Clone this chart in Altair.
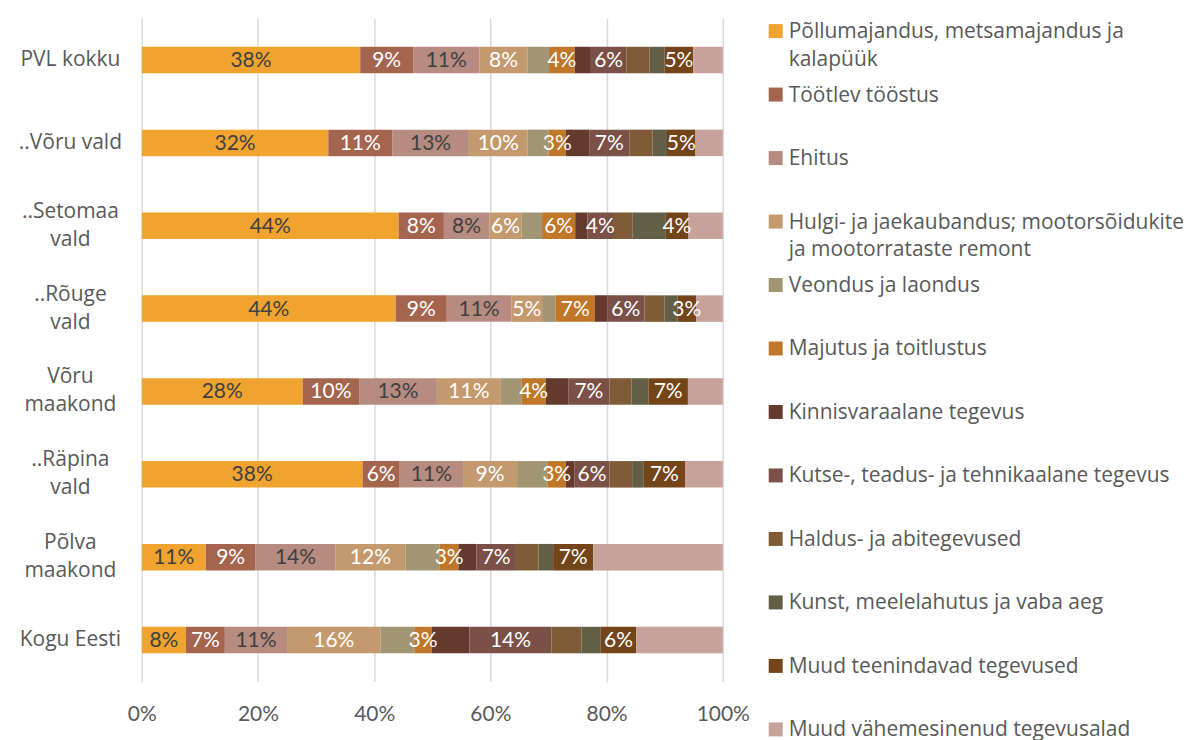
import altair as alt
import pandas as pd

ROWS = ["PVL kokku", "..Võru vald", "..Setomaa|vald", "..Rõuge|vald",
        "Võru|maakond", "..Räpina|vald", "Põlva|maakond", "Kogu Eesti"]

CATEGORIES = [
    "Põllumajandus, metsamajandus ja kalapüük",
    "Töötlev tööstus",
    "Ehitus",
    "Hulgi- ja jaekaubandus; mootorsõidukite ja mootorrataste remont",
    "Veondus ja laondus",
    "Majutus ja toitlustus",
    "Kinnisvaraalane tegevus",
    "Kutse-, teadus- ja tehnikaalane tegevus",
    "Haldus- ja abitegevused",
    "Kunst, meelelahutus ja vaba aeg",
    "Muud teenindavad tegevused",
    "Muud vähemesinenud tegevusalad",
]

LEGEND_TEXT = [
    "Põllumajandus, metsamajandus ja\nkalapüük",
    "Töötlev tööstus",
    "Ehitus",
    "Hulgi- ja jaekaubandus; mootorsõidukite\nja mootorrataste remont",
    "Veondus ja laondus",
    "Majutus ja toitlustus",
    "Kinnisvaraalane tegevus",
    "Kutse-, teadus- ja tehnikaalane tegevus",
    "Haldus- ja abitegevused",
    "Kunst, meelelahutus ja vaba aeg",
    "Muud teenindavad tegevused",
    "Muud vähemesinenud tegevusalad",
]

COLORS = ["#F0A32F", "#A5644E", "#B68B80", "#C4996E", "#A19574", "#C0772A",
          "#643A2F", "#7A5047", "#805B37", "#635E46", "#744519", "#C6A29A"]

# values (percent) per category, in ROWS order
POLLU = [37.6, 32.1, 44.2, 43.7, 27.7, 38.0, 11.0, 7.6]
TOOTLEV = [9.1, 11.0, 7.8, 8.8, 9.7, 6.4, 8.6, 6.7]
EHITUS = [11.4, 13.2, 7.8, 11.1, 13.4, 10.9, 13.7, 10.7]
HULGI = [8.3, 10.1, 5.6, 5.3, 11.0, 9.3, 12.1, 16.1]
VEONDUS = [3.7, 3.6, 3.5, 2.3, 3.6, 5.2, 5.9, 5.8]
MAJUTUS = [4.4, 3.0, 5.7, 6.8, 4.1, 3.2, 3.2, 3.0]
KINNIS = [2.8, 4.0, 2.1, 2.1, 3.9, 1.5, 3.1, 6.5]
KUTSE = [6.1, 6.9, 4.4, 6.4, 7.1, 6.0, 6.8, 14.1]
HALDUS = [4.0, 4.0, 3.4, 3.5, 3.8, 3.9, 3.9, 5.2]
KUNST = [2.6, 2.5, 5.6, 2.2, 2.9, 2.0, 2.5, 3.3]
MUUD_TEEN = [4.9, 4.9, 4.0, 3.2, 6.8, 7.1, 6.9, 6.1]
MUUD_VAH = [5.1, 4.7, 5.9, 4.6, 6.0, 6.5, 22.3, 14.9]

SERIES = [POLLU, TOOTLEV, EHITUS, HULGI, VEONDUS, MAJUTUS, KINNIS, KUTSE,
          HALDUS, KUNST, MUUD_TEEN, MUUD_VAH]
LABELED = [True, True, True, True, False, True, False, True, False, False, True, False]
DARK_LABEL = [True, False, True, False, False, False, False, False, False, False, False, False]

recs = []
for ci, (cat, vals) in enumerate(zip(CATEGORIES, SERIES)):
    for ri, row in enumerate(ROWS):
        recs.append({"row": row, "cat": cat, "order": ci, "value": vals[ri],
                     "labeled": LABELED[ci], "dark": DARK_LABEL[ci]})
df = pd.DataFrame(recs)

TEXT_COLOR = "#595959"
color_scale = alt.Scale(domain=CATEGORIES, range=COLORS)

y_enc = alt.Y("row:N", sort=ROWS,
              scale=alt.Scale(domain=ROWS, paddingInner=0.68, paddingOuter=0.34),
              axis=alt.Axis(title=None, labelExpr="split(datum.label, '|')",
                            ticks=False, domain=False, labelAlign="center",
                            labelPadding=72, labelFontSize=21, labelFont="Open Sans",
                            labelColor=TEXT_COLOR, labelLineHeight=28,
                            labelBaseline="middle",
                            labelOffset={"condition": {"test": "indexof(datum.value, '|') >= 0",
                                                       "value": -14},
                                         "value": 0}))

base = alt.Chart(df).transform_stack(
    stack="value", groupby=["row"], sort=[alt.SortField("order")], as_=["x0", "x1"]
)

bars = base.mark_bar().encode(
    x=alt.X("x0:Q", scale=alt.Scale(domain=[0, 100], nice=False),
            axis=alt.Axis(values=[0, 20, 40, 60, 80, 100], labelExpr="datum.value + '%'",
                          grid=True, gridColor="#D9D9D9", gridWidth=1.5, ticks=False,
                          domain=False, title=None, labelFontSize=21, labelFont="Lato",
                          labelColor=TEXT_COLOR, labelPadding=22, labelFlush=False)),
    x2="x1:Q",
    y=y_enc,
    color=alt.Color("cat:N", scale=color_scale, legend=None),
)

labels = base.transform_filter("datum.labeled").transform_calculate(
    mid="(datum.x0 + datum.x1) / 2", txt="round(datum.value) + '%'"
).mark_text(fontSize=21, font="Lato", baseline="middle", dy=1).encode(
    x="mid:Q",
    y=y_enc,
    text="txt:N",
    color=alt.condition("datum.dark", alt.value("#404040"), alt.value("#FFFFFF")),
)

main = alt.layer(bars, labels).properties(width=582, height=664)

leg_df = pd.DataFrame({"cat": CATEGORIES, "text": LEGEND_TEXT})
ly = alt.Y("cat:N", sort=CATEGORIES,
           scale=alt.Scale(type="point", domain=CATEGORIES, range=[12.5, 712], padding=0),
           axis=None)
swatches = alt.Chart(leg_df).mark_square(size=196, opacity=1).encode(
    x=alt.value(7), y=ly, color=alt.Color("cat:N", scale=color_scale, legend=None)
)
leg_text = alt.Chart(leg_df).mark_text(
    align="left", baseline="alphabetic", dy=7, lineBreak="\n", lineHeight=28,
    fontSize=21, font="Open Sans", color=TEXT_COLOR
).encode(x=alt.value(20), y=ly, text="text:N")
legend = alt.layer(swatches, leg_text).properties(width=405, height=700)

chart = alt.hconcat(main, legend, spacing=46, bounds="flush").configure_view(
    stroke=None
).properties(padding={"left": 10, "top": 10, "right": 0, "bottom": 0})

chart.save("out.html", embed_options={"renderer": "svg", "actions": False})
